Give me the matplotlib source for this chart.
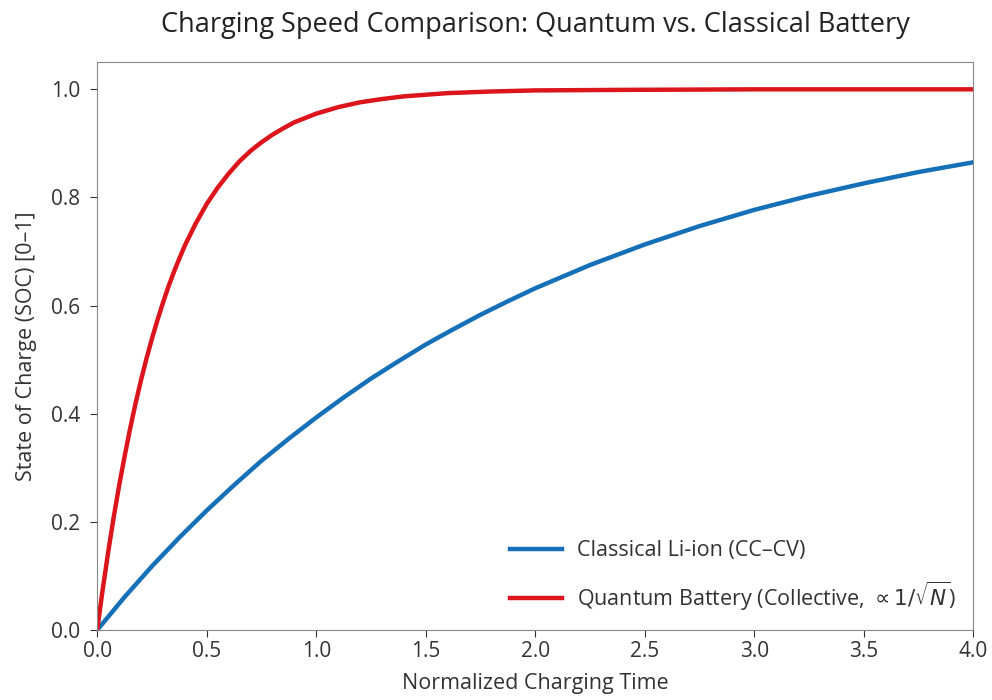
import matplotlib
matplotlib.use("Agg")
import matplotlib.pyplot as plt

# values
t_classical = [0.0, 0.125, 0.25, 0.375, 0.5, 0.625, 0.75, 0.875, 1.0, 1.125, 1.25, 1.375, 1.5, 1.625, 1.75, 1.875,
               2.0, 2.25, 2.5, 2.75, 3.0, 3.25, 3.5, 3.75, 4.0]
soc_classical = [0.0, 0.061, 0.118, 0.171, 0.221, 0.268, 0.313, 0.354, 0.393, 0.430, 0.465, 0.497, 0.528, 0.556, 0.583, 0.608,
                 0.632, 0.675, 0.713, 0.747, 0.777, 0.803, 0.826, 0.847, 0.865]

t_quantum = [0.0, 0.0125, 0.025, 0.0375, 0.05, 0.075, 0.1, 0.125, 0.15, 0.175, 0.2, 0.225, 0.25, 0.275, 0.3, 0.325,
             0.35, 0.375, 0.4, 0.45, 0.5, 0.55, 0.6, 0.65, 0.7, 0.75, 0.8, 0.85, 0.9, 0.95, 1.0, 1.1, 1.2, 1.3, 1.4,
             1.5, 1.6, 1.8, 2.0, 2.4, 3.0, 4.0]
soc_quantum = [0.0, 0.038, 0.075, 0.109, 0.144, 0.208, 0.267, 0.321, 0.372, 0.419, 0.462, 0.502, 0.539, 0.573, 0.605, 0.635,
               0.662, 0.687, 0.711, 0.752, 0.788, 0.818, 0.844, 0.867, 0.886, 0.902, 0.916, 0.928, 0.939, 0.947, 0.955,
               0.967, 0.976, 0.982, 0.987, 0.990, 0.993, 0.996, 0.998, 0.999, 1.0, 1.0]

plt.rcParams['font.family'] = ['Open Sans', 'DejaVu Sans']
plt.rcParams['mathtext.fontset'] = 'dejavusans'

fig = plt.figure(figsize=(9.92, 7.0), dpi=100)
ax = fig.add_axes([0.098, 0.1, 0.883, 0.811])

ax.plot(t_classical, soc_classical, color="#1670b8", lw=3.2, label="Classical Li-ion (CC\u2013CV)")
ax.plot(t_quantum, soc_quantum, color="#dc141c", lw=3.2,
        label=r"Quantum Battery (Collective, $\propto 1/\sqrt{N}$)")

ax.set_xlim(0, 4)
ax.set_ylim(0, 1.05)
ax.set_xticks([0, 0.5, 1.0, 1.5, 2.0, 2.5, 3.0, 3.5, 4.0])
ax.set_yticks([0, 0.2, 0.4, 0.6, 0.8, 1.0])
ax.tick_params(labelsize=15, colors="#333333", length=5)
ax.tick_params(axis="y", pad=7)
ax.tick_params(axis="x", pad=3)
for s in ax.spines.values():
    s.set_color("#888888")

ax.set_xlabel("Normalized Charging Time", fontsize=15.5, color="#333333", labelpad=8)
ax.set_ylabel("State of Charge (SOC) [0\u20131]", fontsize=15.5, color="#333333", labelpad=10)
ax.set_title("Charging Speed Comparison: Quantum vs. Classical Battery", fontsize=19.5, color="#222222", pad=22)

ax.legend(loc="lower right", frameon=False, fontsize=15.5, labelcolor="#333333",
          handlelength=2.4, handletextpad=0.7, borderaxespad=0.4, labelspacing=0.85)

fig.savefig("out.png", dpi=100)
